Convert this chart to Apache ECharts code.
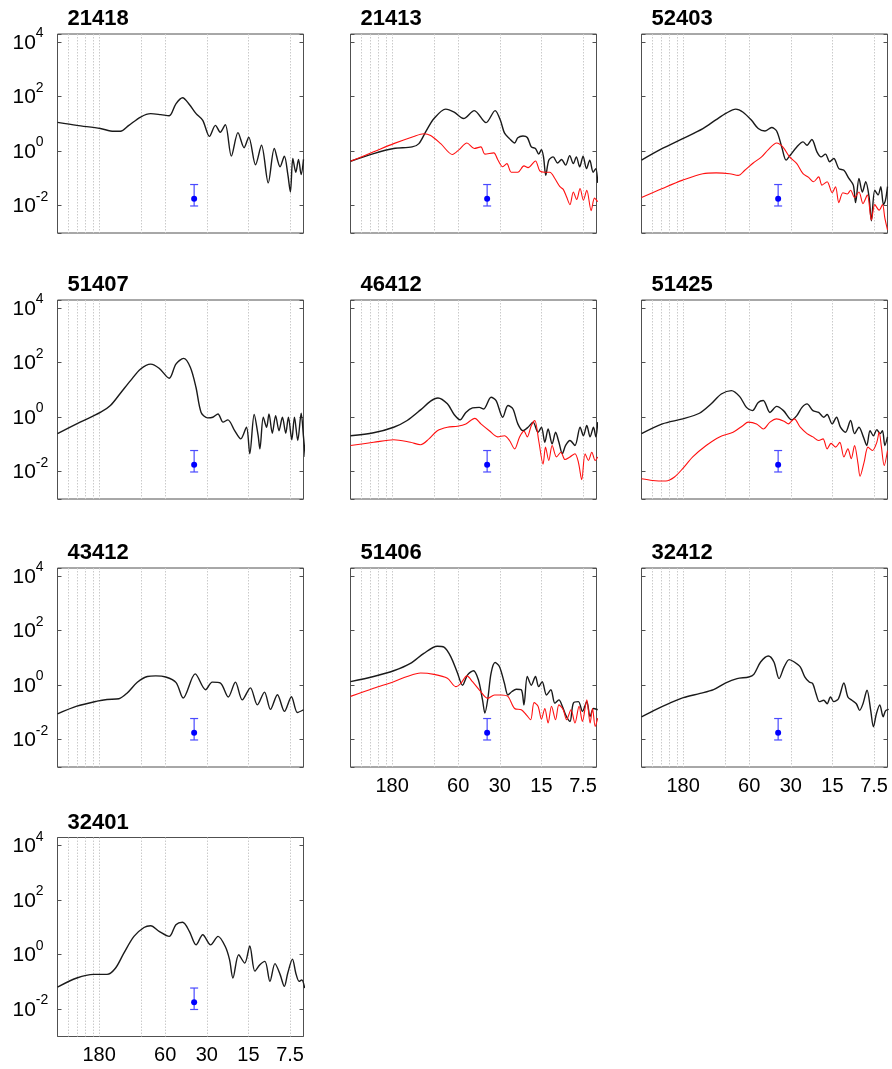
<!DOCTYPE html>
<html><head><meta charset="utf-8">
<script src="https://cdn.jsdelivr.net/npm/echarts@6/dist/echarts.min.js"></script>
<style>html,body{margin:0;padding:0;background:#fff}#c{width:892px;height:1069px}</style>
</head><body><div id="c"></div>
<script>
// ---------- DATA ----------
const stations = ['21418','21413','52403','51407','46412','51425','43412','51406','32412','32401'];
// vertical grid lines, as periods (minutes)
const gridPeriods = [300, 257.14, 225, 200, 180, 90, 60, 30, 15, 7.5];
// x tick labels (periods, minutes)
const labelPeriods = [180, 60, 30, 15, 7.5];
// y tick labels
const yTickValues = [1e-2, 1, 1e2, 1e4];
// error bar: [frequency (cph), low, high, centre]
const errBar = [[1.62, 0.0098, 0.06, 0.018]];

// spectra: [frequency (cycles per hour), energy]
const black_21418 = [[0.1667,11.5],[0.23,8.9],[0.34,6.8],[0.425,5.4],[0.475,5.4],[0.547,8.9],[0.665,18],[0.786,24],[0.93,22],[1.07,20],[1.196,55],[1.337,92],[1.496,52],[1.673,24],[1.87,13.6],[2.09,3.5],[2.31,8.9],[2.5,5.0],[2.72,9.5],[3.01,0.66],[3.36,4.8],[3.72,1.35],[4.02,3.3],[4.5,0.32],[4.97,1.66],[5.56,0.069],[6.15,1.26],[6.77,0.27],[7.27,0.66],[7.69,0.15],[8.04,0.032],[8.37,0.54],[8.8,0.17],[9.2,0.5],[9.62,0.14],[10.0,0.5]];
const black_21413 = [[0.1667,0.43],[0.245,0.82],[0.342,1.26],[0.465,1.44],[0.52,1.9],[0.582,5.1],[0.669,15.8],[0.813,35],[0.935,27],[1.093,15.8],[1.308,31],[1.59,11.2],[1.85,31],[2.02,13.6],[2.16,4.7],[2.35,2.9],[2.56,2.0],[2.70,3.1],[2.94,3.6],[3.16,3.2],[3.38,1.44],[3.62,1.26],[3.82,0.78],[4.0,1.15],[4.14,0.62],[4.30,0.13],[4.52,0.47],[4.86,0.62],[5.23,0.37],[5.59,0.5],[5.98,0.31],[6.4,0.69],[6.8,0.35],[7.15,0.62],[7.56,0.27],[8.0,0.66],[8.46,0.23],[8.94,0.47],[9.46,0.17],[9.89,0.23],[10.2,0.069]];
const red_21413 = [[0.1667,0.43],[0.245,0.95],[0.342,1.9],[0.478,3.5],[0.565,4.4],[0.632,3.8],[0.748,1.9],[0.909,0.76],[1.017,1.15],[1.157,2.0],[1.308,1.26],[1.46,1.44],[1.56,0.78],[1.81,0.87],[1.93,0.5],[2.10,0.27],[2.25,0.35],[2.42,0.17],[2.70,0.17],[2.99,0.29],[3.20,0.25],[3.62,0.44],[3.89,0.19],[4.23,0.17],[4.60,0.17],[5.0,0.1],[5.44,0.05],[5.75,0.04],[6.08,0.021],[6.43,0.011],[6.80,0.032],[7.19,0.017],[7.61,0.043],[8.04,0.016],[8.51,0.037],[9.15,0.0066],[9.67,0.019],[10.2,0.014]];
const black_52403 = [[0.1667,0.47],[0.236,1.26],[0.331,2.9],[0.463,6.8],[0.578,14.5],[0.684,25],[0.80,35],[0.904,27],[1.04,13.6],[1.163,6.8],[1.30,5.5],[1.454,7.4],[1.58,5.5],[1.72,1.44],[1.85,0.47],[1.98,0.71],[2.21,1.44],[2.45,2.2],[2.62,1.66],[2.84,2.7],[3.09,0.95],[3.31,0.62],[3.56,0.78],[3.82,0.41],[4.09,0.54],[4.45,0.23],[4.84,0.2],[5.26,0.1],[5.66,0.057],[5.88,0.013],[6.22,0.1],[6.58,0.032],[6.96,0.076],[7.36,0.021],[7.65,0.0028],[8.09,0.037],[8.56,0.025],[8.94,0.05],[9.36,0.011],[9.67,0.016],[10.0,0.05]];
const red_52403 = [[0.1667,0.020],[0.236,0.043],[0.331,0.087],[0.463,0.15],[0.578,0.16],[0.723,0.15],[0.832,0.13],[0.93,0.2],[1.07,0.37],[1.23,0.62],[1.376,1.15],[1.58,2.0],[1.75,1.44],[1.96,0.62],[2.21,0.35],[2.45,0.15],[2.69,0.11],[2.92,0.076],[3.18,0.115],[3.36,0.057],[3.66,0.076],[3.98,0.03],[4.21,0.05],[4.45,0.013],[4.76,0.03],[5.12,0.027],[5.41,0.037],[5.78,0.02],[6.22,0.032],[6.65,0.012],[7.15,0.025],[7.65,0.003],[8.09,0.011],[8.70,0.0069],[9.20,0.011],[9.57,0.0035],[10.0,0.0013]];
const black_51407 = [[0.1667,0.25],[0.243,0.66],[0.34,1.5],[0.402,2.7],[0.475,7.6],[0.562,22],[0.665,59],[0.786,89],[0.904,63],[1.07,27],[1.196,89],[1.36,144],[1.52,68],[1.67,12.6],[1.82,1.5],[2.03,0.95],[2.21,1.0],[2.41,1.32],[2.62,0.66],[2.84,0.8],[3.18,0.32],[3.52,0.16],[3.87,0.43],[4.09,0.046],[4.40,1.26],[4.70,0.21],[4.84,0.069],[5.12,1.0],[5.41,0.43],[5.63,1.32],[5.95,0.26],[6.29,1.15],[6.65,0.32],[7.04,1.0],[7.44,0.26],[7.78,1.0],[8.23,0.15],[8.60,1.0],[9.09,0.14],[9.62,1.4],[10.0,0.19],[10.3,0.035]];
const black_46412 = [[0.1667,0.21],[0.245,0.27],[0.342,0.43],[0.428,0.76],[0.535,1.86],[0.632,3.9],[0.715,5.1],[0.836,3.1],[0.935,1.26],[1.034,0.8],[1.137,1.5],[1.27,2.2],[1.42,2.3],[1.53,2.0],[1.73,5.4],[1.88,4.1],[2.10,1.0],[2.29,2.7],[2.49,2.0],[2.70,0.57],[2.94,0.32],[3.20,0.43],[3.48,0.66],[3.78,0.28],[4.0,0.43],[4.23,0.12],[4.47,0.37],[4.78,0.105],[5.06,0.28],[5.35,0.12],[5.66,0.046],[5.98,0.092],[6.43,0.14],[6.99,0.092],[7.61,0.43],[8.04,0.21],[8.51,0.5],[8.99,0.19],[9.51,0.43],[9.89,0.19],[10.2,0.66]];
const red_46412 = [[0.1667,0.092],[0.245,0.12],[0.342,0.15],[0.452,0.12],[0.535,0.098],[0.615,0.16],[0.707,0.32],[0.836,0.43],[0.989,0.47],[1.137,0.57],[1.32,0.91],[1.46,0.57],[1.68,0.32],[1.93,0.19],[2.16,0.21],[2.35,0.14],[2.56,0.069],[2.78,0.19],[2.99,0.31],[3.16,0.19],[3.38,0.5],[3.58,0.76],[3.82,0.14],[4.11,0.019],[4.28,0.08],[4.52,0.026],[4.78,0.092],[5.14,0.035],[5.53,0.052],[5.92,0.028],[6.43,0.035],[6.99,0.046],[7.40,0.022],[7.82,0.0051],[8.27,0.046],[8.75,0.026],[9.25,0.052],[9.78,0.026],[10.2,0.035]];
const black_51425 = [[0.1667,0.25],[0.236,0.57],[0.331,0.87],[0.437,1.4],[0.532,3.1],[0.629,7.1],[0.744,9.5],[0.855,5.7],[0.956,2.3],[1.057,1.75],[1.163,3.5],[1.265,4.1],[1.414,1.5],[1.58,2.5],[1.77,1.75],[2.03,0.8],[2.21,1.15],[2.41,2.3],[2.62,3.1],[2.89,1.75],[3.18,1.5],[3.46,1.0],[3.66,1.26],[3.98,0.57],[4.28,1.0],[4.57,0.43],[4.97,0.28],[5.41,0.76],[5.78,0.25],[6.22,0.43],[6.69,0.19],[7.08,0.092],[7.48,0.32],[7.91,0.21],[8.37,0.35],[8.85,0.25],[9.20,0.32],[9.57,0.092],[10.0,0.19]];
const red_51425 = [[0.1667,0.0055],[0.2,0.0048],[0.25,0.0046],[0.287,0.0063],[0.331,0.013],[0.391,0.035],[0.489,0.092],[0.611,0.19],[0.765,0.28],[0.904,0.5],[0.983,0.66],[1.131,0.57],[1.265,0.37],[1.414,0.66],[1.58,0.87],[1.79,0.71],[1.92,0.57],[2.12,0.87],[2.34,0.43],[2.62,0.25],[2.89,0.19],[3.18,0.14],[3.42,0.16],[3.66,0.069],[3.91,0.11],[4.21,0.08],[4.52,0.12],[4.84,0.035],[5.17,0.069],[5.47,0.03],[5.78,0.092],[6.12,0.02],[6.33,0.0068],[6.77,0.022],[7.23,0.08],[7.78,0.06],[8.37,0.12],[8.70,0.28],[9.04,0.08],[9.46,0.017],[10.0,0.06]];
const black_43412 = [[0.1667,0.089],[0.23,0.17],[0.322,0.26],[0.38,0.30],[0.463,0.32],[0.532,0.52],[0.629,1.29],[0.744,2.1],[0.855,2.2],[1.01,2.0],[1.2,1.25],[1.35,0.34],[1.65,2.6],[1.96,0.68],[2.19,1.3],[2.51,1.2],[2.86,0.37],[3.22,1.3],[3.61,0.29],[4.13,0.8],[4.64,0.19],[5.22,0.56],[5.77,0.13],[6.48,0.45],[7.28,0.11],[8.18,0.38],[9.04,0.1],[10.0,0.126]];
const black_51406 = [[0.1667,1.35],[0.245,2.1],[0.342,3.4],[0.452,6.3],[0.565,14.8],[0.707,27],[0.79,25],[0.884,11.2],[0.989,2.8],[1.075,1.0],[1.17,2.4],[1.29,3.4],[1.40,1.58],[1.50,0.29],[1.56,0.095],[1.64,0.33],[1.73,2.8],[1.85,6.8],[1.99,4.8],[2.16,1.18],[2.29,0.44],[2.45,0.59],[2.63,0.71],[2.86,0.68],[2.99,0.19],[3.16,2.1],[3.38,1.0],[3.62,2.1],[3.82,0.89],[4.05,1.35],[4.35,0.44],[4.68,0.68],[5.0,0.22],[5.35,0.29],[5.66,0.17],[5.98,0.082],[6.43,0.047],[6.80,0.22],[7.40,0.25],[7.91,0.11],[8.51,0.25],[8.99,0.071],[9.51,0.14],[10.2,0.126]];
const red_51406 = [[0.1667,0.39],[0.245,0.78],[0.342,1.35],[0.428,2.1],[0.535,2.8],[0.669,2.5],[0.836,1.8],[0.962,0.89],[1.046,1.18],[1.157,2.2],[1.27,1.35],[1.42,0.68],[1.64,0.33],[1.83,0.44],[2.05,0.44],[2.29,0.39],[2.56,0.14],[2.86,0.126],[3.11,0.082],[3.34,0.054],[3.54,0.23],[3.78,0.17],[4.0,0.057],[4.23,0.14],[4.47,0.041],[4.73,0.17],[5.06,0.054],[5.35,0.19],[5.75,0.126],[6.08,0.054],[6.54,0.126],[6.99,0.041],[7.48,0.17],[7.91,0.047],[8.51,0.29],[8.99,0.041],[9.36,0.14],[9.78,0.031],[10.2,0.062]];
const black_32412 = [[0.1667,0.069],[0.213,0.13],[0.267,0.22],[0.334,0.35],[0.442,0.5],[0.553,0.69],[0.672,1.2],[0.818,1.75],[0.994,2.0],[1.081,2.5],[1.21,7.1],[1.376,11.8],[1.51,7.1],[1.645,1.75],[1.79,4.7],[1.945,8.7],[2.12,7.1],[2.34,4.7],[2.53,2.0],[2.72,1.32],[2.88,1.15],[3.04,0.5],[3.22,0.25],[3.46,0.28],[3.66,0.21],[3.87,0.37],[4.09,0.25],[4.42,0.32],[4.84,1.2],[5.17,0.37],[5.53,0.28],[5.95,0.21],[6.29,0.12],[6.65,0.21],[7.11,0.66],[7.56,0.12],[7.91,0.03],[8.32,0.092],[8.80,0.19],[9.30,0.069],[9.67,0.115],[10.2,0.13]];
const black_32401 = [[0.1667,0.065],[0.23,0.14],[0.304,0.19],[0.38,0.19],[0.437,0.32],[0.503,1.15],[0.595,4.7],[0.703,10],[0.786,11.5],[0.904,7.2],[1.07,4.7],[1.196,12.6],[1.337,15.5],[1.496,7.2],[1.673,2.3],[1.87,5.4],[2.13,2.3],[2.41,4.7],[2.72,2.0],[2.92,0.66],[3.09,0.14],[3.40,1.0],[3.76,0.49],[4.09,2.1],[4.45,0.25],[4.84,0.43],[5.26,0.57],[5.72,0.105],[6.22,0.47],[6.77,0.19],[7.27,0.069],[7.69,0.21],[8.32,0.69],[8.80,0.21],[9.30,0.105],[9.72,0.12],[10.2,0.06]];

const panels = [
  {id:'21418', black:black_21418},
  {id:'21413', black:black_21413, red:red_21413},
  {id:'52403', black:black_52403, red:red_52403},
  {id:'51407', black:black_51407},
  {id:'46412', black:black_46412, red:red_46412},
  {id:'51425', black:black_51425, red:red_51425},
  {id:'43412', black:black_43412},
  {id:'51406', black:black_51406, red:red_51406},
  {id:'32412', black:black_32412},
  {id:'32401', black:black_32401}
];
const xLabelled = ['51406','32412','32401'];

// ---------- LAYOUT ----------
const COL_LEFT = [57.5, 350.5, 641.5];
const ROW_TOP = [34, 300, 568, 837.5];
const W = 246, H = 199;
const FONT = '"Liberation Sans", Arial, Helvetica, sans-serif';

const gridFreqs = gridPeriods.map(p => 60 / p);
const labelFreqs = labelPeriods.map(p => 60 / p);

function periodLabel(v) {
  let best = labelPeriods[0];
  labelPeriods.forEach(p => { if (Math.abs(60 / p - v) < Math.abs(60 / best - v)) best = p; });
  return String(best);
}
function yLabel(v) {
  const e = Math.log10(v), r = Math.round(e);
  if (Math.abs(e - r) > 0.01 || r % 2 !== 0) return '';
  return '{b|10}{s|' + r + '}';
}

const chart = echarts.init(document.getElementById('c'));
const option = {animation:false, backgroundColor:'#fff', textStyle:{fontFamily:FONT},
  title:[], grid:[], xAxis:[], yAxis:[], series:[]};

panels.forEach((p, i) => {
  const r = Math.floor(i / 3), c = i % 3;
  const left = COL_LEFT[c], top = ROW_TOP[r];
  option.grid.push({left:left, top:top, width:W, height:H, show:true,
    borderColor:'#505050', borderWidth:1, backgroundColor:'rgba(0,0,0,0)'});
  option.title.push({text:p.id, left:left + 10, top:top - 26, padding:0,
    textStyle:{fontSize:22, fontWeight:'bold', color:'#000', fontFamily:FONT}});
  option.xAxis.push({type:'log', logBase:10, gridIndex:i, min:1/6, max:10,
    axisLine:{show:false},
    axisTick:{show:false, customValues:gridFreqs},
    splitLine:{show:true, customValues:gridFreqs, lineStyle:{color:'#cacaca', type:[1.5,1.5], width:1}},
    axisLabel:{show:xLabelled.indexOf(p.id) >= 0, customValues:labelFreqs, formatter:periodLabel,
      fontSize:20, color:'#000', fontFamily:FONT, margin:9}
  });
  const yBase = {type:'log', logBase:100, gridIndex:i, min:0.001, max:20000,
    axisLine:{show:false}, splitLine:{show:false},
    axisTick:{show:true, inside:true, length:4, lineStyle:{color:'#505050', width:1}}};
  option.yAxis.push(Object.assign({}, yBase, {position:'left',
    axisLabel:{show:c === 0, formatter:yLabel, margin:45, align:'left', showMinLabel:true, showMaxLabel:true,
      rich:{
        b:{fontSize:21, fontFamily:FONT, color:'#000', verticalAlign:'bottom', lineHeight:22},
        s:{fontSize:14, fontFamily:FONT, color:'#000', verticalAlign:'bottom', lineHeight:14, padding:[0,0,13,0]}
      }}}));
});
panels.forEach((p, i) => {
  const yBase = {type:'log', logBase:100, gridIndex:i, min:0.001, max:20000, position:'right',
    axisLine:{show:false}, splitLine:{show:false}, axisLabel:{show:false},
    axisTick:{show:true, inside:true, length:4, lineStyle:{color:'#505050', width:1}}};
  option.yAxis.push(yBase);
});

panels.forEach((p, i) => {
  option.series.push({type:'line', xAxisIndex:i, yAxisIndex:i, data:p.black, showSymbol:false,
    smooth:0.3, lineStyle:{color:'#1a1a1a', width:1.4}, z:3, silent:true});
  if (p.red) option.series.push({type:'line', xAxisIndex:i, yAxisIndex:i, data:p.red, showSymbol:false,
    smooth:0.3, lineStyle:{color:'#ff1010', width:1.1}, z:4, silent:true});
  option.series.push({type:'custom', xAxisIndex:i, yAxisIndex:i, data:errBar, z:5, silent:true,
    encode:{x:0, y:[1,2,3]},
    renderItem:function(params, api) {
      const x = api.value(0);
      const lo = api.coord([x, api.value(1)]);
      const hi = api.coord([x, api.value(2)]);
      const mid = api.coord([x, api.value(3)]);
      const cw = 4;
      const st = {stroke:'#4a4aff', lineWidth:1.2};
      return {type:'group', children:[
        {type:'line', shape:{x1:hi[0], y1:hi[1], x2:lo[0], y2:lo[1]}, style:st},
        {type:'line', shape:{x1:hi[0]-cw, y1:hi[1], x2:hi[0]+cw, y2:hi[1]}, style:st},
        {type:'line', shape:{x1:lo[0]-cw, y1:lo[1], x2:lo[0]+cw, y2:lo[1]}, style:st},
        {type:'circle', shape:{cx:mid[0], cy:mid[1], r:3}, style:{fill:'#0000ff'}}
      ]};
    }});
});

chart.setOption(option);
</script></body></html>
